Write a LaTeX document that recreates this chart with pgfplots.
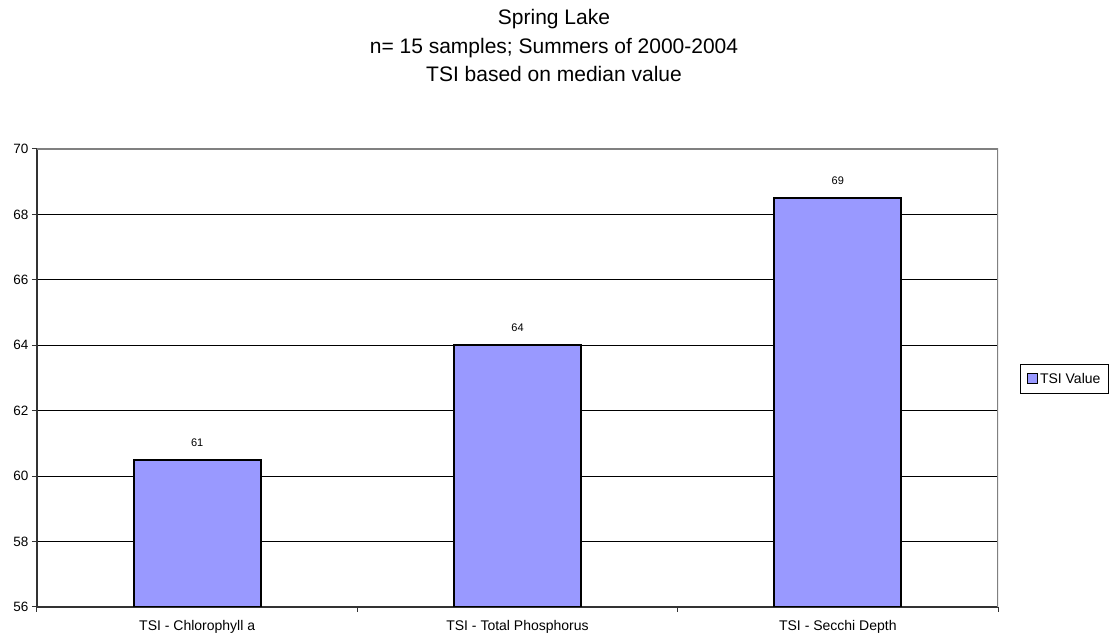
\documentclass[border=0pt]{standalone}
\usepackage{pgfplots}
\pgfplotsset{compat=1.18}
\usepackage{fontspec}
\setmainfont{Liberation Sans}
\definecolor{barblue}{HTML}{9999FF}
\definecolor{axisdark}{HTML}{333333}

\begin{document}
\begin{tikzpicture}[x=1pt,y=1pt]
\useasboundingbox (0,0) rectangle (1109,639);
% chart title, three centred lines
\node[anchor=base, inner sep=0pt, font=\fontsize{21}{25}\selectfont] at (554,614) {Spring Lake};
\node[anchor=base, inner sep=0pt, font=\fontsize{21}{25}\selectfont] at (554,585) {n= 15 samples; Summers of 2000-2004};
\node[anchor=base, inner sep=0pt, font=\fontsize{21}{25}\selectfont] at (554,557) {TSI based on median value};

\begin{axis}[
  at={(37pt,32pt)}, anchor=south west,
  scale only axis, width=961pt, height=458pt,
  xmin=-0.5, xmax=2.5, ymin=56, ymax=70,
  ytick={56,58,...,70},
  xtick={0,1,2},
  xticklabels={TSI - Chlorophyll a, TSI - Total Phosphorus, TSI - Secchi Depth},
  minor xtick={-0.5,0.5,1.5,2.5},
  axis x line*=bottom, axis y line*=left,
  axis line style={axisdark, line width=2pt},
  tick align=outside,
  major tick length=5pt, minor tick length=5pt,
  major x tick style={draw=none},
  minor x tick style={axisdark, line width=1pt},
  major y tick style={axisdark, line width=1pt},
  ymajorgrids, grid style={black, line width=1pt},
  /pgf/number format/assume math mode=true,
  yticklabel style={font=\fontsize{13.5}{16}\selectfont},
  xticklabel style={font=\fontsize{14}{16}\selectfont, yshift=-5pt},
  legend style={at={(axis description cs:1.0229,0.498)}, anchor=west,
    draw=black, line width=1pt, font=\fontsize{14}{16}\selectfont,
    inner xsep=6.5pt, inner ysep=6.5pt, row sep=0pt},
  legend image code/.code={\draw[fill=barblue, draw=black, line width=1pt] (0pt,-5pt) rectangle (10pt,5pt);},
]
\addplot[ybar, bar width=127pt, fill=barblue, draw=black, line width=2pt,
  nodes near coords={\pgfmathprintnumber[fixed,precision=0]{\pgfplotspointmeta}},
  nodes near coords style={font=\fontsize{11}{13}\selectfont, anchor=south, yshift=9pt, black}]
  coordinates {(0,60.5) (1,64) (2,68.5)};
\addlegendentry{TSI Value}
\draw[gray, line width=2pt] (rel axis cs:0,1) -- (rel axis cs:1,1) -- (rel axis cs:1,0);
\end{axis}
\end{tikzpicture}
\end{document}
